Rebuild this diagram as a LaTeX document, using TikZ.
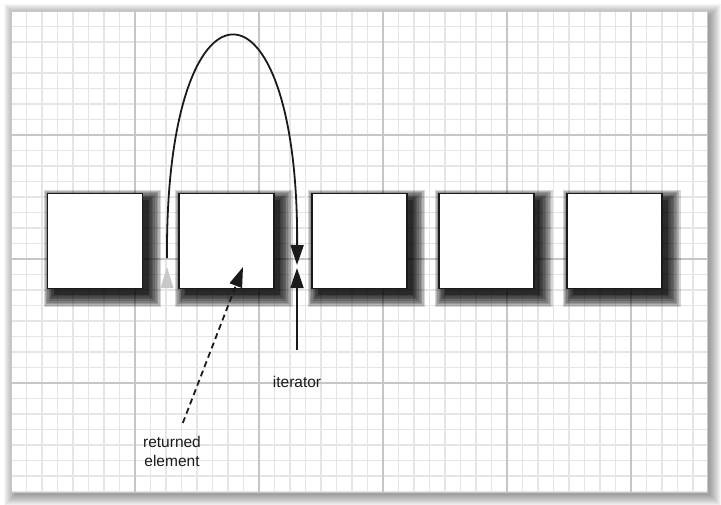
\documentclass[tikz,border=0pt]{standalone}
\usepackage{fontspec}
\setmainfont{Liberation Sans}
\usetikzlibrary{arrows.meta, positioning, shadows}
\definecolor{gridminor}{HTML}{E5E5E5}
\definecolor{gridmajor}{HTML}{C6C6C6}
\definecolor{ink}{HTML}{1A1A1A}
\definecolor{ghostgray}{HTML}{C8C8C8}
\tikzset{
  softshadow/.style={drop shadow={shadow xshift=6pt, shadow yshift=-6pt, shadow scale=#1, opacity=0.16, fill=black}},
  blurshadow/.style={softshadow=1.24, softshadow=1.21, softshadow=1.18, softshadow=1.15,
    softshadow=1.12, softshadow=1.09, softshadow=1.06, softshadow=1.03, softshadow=1.0, softshadow=1.0}}
\tikzstyle{cell} = [rectangle, minimum size=95pt, draw=ink, line width=1.8pt, fill=white, blurshadow]
\tikzstyle{pointer} = [line width=1.8pt, draw=ink, -{Triangle[length=20pt,width=13pt]}]
\tikzstyle{note} = [font=\fontsize{15.5}{19}\selectfont, text=ink, align=center]

\begin{document}
\begin{tikzpicture}[x=1pt, y=-1pt]
\useasboundingbox (0,0) rectangle (721,504);
\fill[white] (0,0) rectangle (721,504);

% Paper and its shadow
\foreach \k in {1,...,12}
    \fill[black, opacity=0.035] (16-\k, 16-\k) rectangle (709+\k, 494+\k);
\fill[white] (11,11) rectangle (707,492);
\begin{scope}[shift={(11,11)}]
\draw[gridminor, line width=1.5pt, step=15.5pt] (0,481) grid (696,0);
\draw[gridmajor, line width=1.3pt, step=124pt] (0,481) grid (696,0);
\end{scope}
\draw[gridmajor, line width=0.8pt] (11,11) rectangle (707,492);

% List elements
\node (elem1) [cell] at (95,241) {};
\node (elem2) [cell, right=34.5pt of elem1] {};
\node (elem3) [cell, right=36pt of elem2] {};
\node (elem4) [cell, right=30.5pt of elem3] {};
\node (elem5) [cell, right=31pt of elem4] {};

% Iterator jump
\coordinate (arc-start) at (167,258);
\coordinate (arc-tip) at (297,265);
\coordinate (ghost-tip) at (167,267);
\fill[ghostgray] (ghost-tip) -- ++(-6.5,21) -- ++(13,0) -- cycle;
\draw[pointer] (arc-start) .. controls (165,-38) and (299,-38) .. (arc-tip);

% Labels
\coordinate (iter-tip) at (297,268);
\node (iter-label) [note, anchor=base] at (297,387) {iterator};
\draw[pointer, shorten <=22pt] (iter-label) -- (iter-tip);

\coordinate (ret-tip) at (243,267);
\node (ret-label) [note] at (172,451) {returned\\element};
\draw[pointer, dash pattern=on 6pt off 4pt, shorten <=10pt] (ret-label) -- (ret-tip);

\end{tikzpicture}
\end{document}
